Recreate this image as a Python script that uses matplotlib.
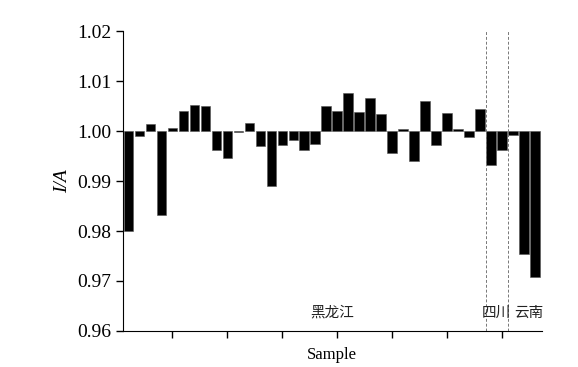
import numpy as np
import matplotlib
matplotlib.use('Agg')
import matplotlib.pyplot as plt

#%% data
sample = np.arange(1, 39)
ratio = [0.9800, 0.9990, 1.0015, 0.9832, 1.0007, 1.0041, 1.0053, 1.0051, 0.9963, 0.9947,
         0.9998, 1.0017, 0.9970, 0.9890, 0.9973, 0.9983, 0.9963, 0.9975, 1.0051, 1.0041,
         1.0077, 1.0039, 1.0067, 1.0035, 0.9957, 1.0005, 0.9940, 1.0060, 0.9973, 1.0037,
         1.0005, 0.9989, 1.0044, 0.9933, 0.9963, 0.9993, 0.9755, 0.9708]
base = 1.00
group_bounds = [33.5, 35.5]
group_names = ['黑龙江', '四川', '云南']
group_label_x = [19.5, 34.5, 37.4]
yticks = [0.96, 0.97, 0.98, 0.99, 1.00, 1.01, 1.02]
xticks = [5, 10, 15, 20, 25, 30, 35]

plt.rcParams['font.family'] = ['Liberation Serif', 'DejaVu Serif']

#%%
fig = plt.figure(figsize=(5.78, 3.67), dpi=100)
ax = fig.add_axes([0.2128, 0.0981, 0.7244, 0.8174])

heights = np.array(ratio) - base
ax.bar(sample, heights, bottom=base, width=0.88, color='black', edgecolor='#555555', linewidth=0.4)

for xb in group_bounds:
    ax.plot([xb, xb], [0.96, 1.02], ls=(0, (3, 2)), color='#777777', lw=0.7)

for name, xl in zip(group_names, group_label_x):
    ax.text(xl, 0.9636, name, ha='center', va='center', fontsize=10.5,
            family=['Noto Sans CJK SC', 'DejaVu Sans'], color='#222222')

ax.set_xlim(0.5, 38.6)
ax.set_ylim(0.96, 1.02)
ax.set_yticks(yticks)
ax.set_yticklabels([f'{v:.2f}' for v in yticks], fontsize=14)
ax.set_xticks(xticks)
ax.set_xticklabels([])
ax.tick_params(direction='out', length=5, width=1)
ax.spines['top'].set_visible(False)
ax.spines['right'].set_visible(False)
ax.set_ylabel('I/A', fontsize=14, style='italic', labelpad=4)
ax.set_xlabel('Sample', fontsize=12, labelpad=3)

plt.savefig('out.png', dpi=100)
